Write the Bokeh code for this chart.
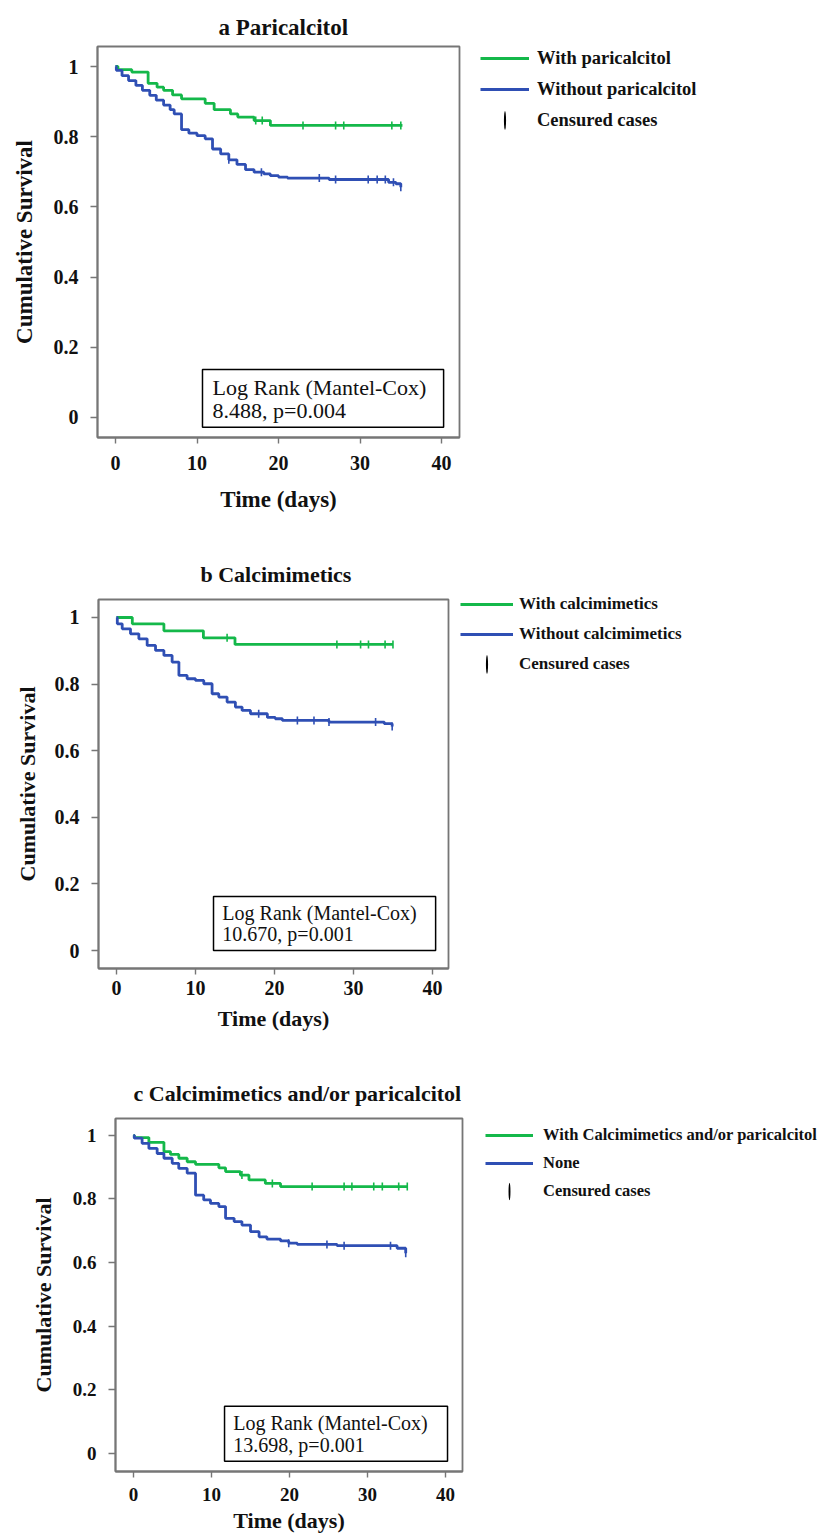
import numpy as np
from bokeh.plotting import figure
from bokeh.models import (FixedTicker, Legend, LegendItem, BoxAnnotation, Label, Range1d)
from bokeh.embed import file_html
from bokeh.resources import INLINE

FONT = "Liberation Serif"
GREEN = "#14b84a"
BLUE = "#2f4fb4"
FRAME = "#767676"
INK = "#111111"

x_ticks = [0, 10, 20, 30, 40]
y_ticks = [0, 0.2, 0.4, 0.6, 0.8, 1.0]
y_tick_labels = ["0", "0.2", "0.4", "0.6", "0.8", "1"]

# ---- panel a : Paricalcitol ----
a_title = "a Paricalcitol"
a_labels = ["With paricalcitol", "Without paricalcitol", "Censured cases"]
a_stat = ["Log Rank (Mantel-Cox)", "8.488, p=0.004"]
a_with_t = [0, 0.3, 2.0, 4.0, 5.1, 5.9, 7.0, 8.1, 11.0, 12.1, 14.1, 15.0, 17.0, 19.0, 35.2]
a_with_s = [1.0, 0.991, 0.984, 0.952, 0.941, 0.932, 0.919, 0.908, 0.895, 0.877, 0.865, 0.856, 0.846, 0.832, 0.832]
a_with_cens = [17.2, 18.0, 23.0, 27.0, 28.0, 33.9, 35.0]
a_without_t = [0, 0.1, 0.8, 1.6, 2.5, 3.3, 4.2, 5.0, 5.9, 6.7, 7.2, 8.1, 9.0, 10.0, 11.0, 11.9,
               12.9, 13.9, 14.9, 15.95, 17.0, 18.2, 19.0, 20.0, 21.1, 26.2, 33.5, 34.4, 35.0]
a_without_s = [1.0, 0.989, 0.974, 0.960, 0.946, 0.932, 0.918, 0.904, 0.890, 0.877, 0.865, 0.820, 0.810,
               0.803, 0.794, 0.765, 0.751, 0.734, 0.721, 0.706, 0.699, 0.694, 0.689, 0.685, 0.682,
               0.678, 0.670, 0.666, 0.656]
a_without_cens = [13.9, 17.9, 25.0, 27.0, 31.0, 32.1, 33.1, 34.1, 35.0]

# ---- panel b : Calcimimetics ----
b_title = "b Calcimimetics"
b_labels = ["With calcimimetics", "Without calcimimetics", "Censured cases"]
b_stat = ["Log Rank (Mantel-Cox)", "10.670, p=0.001"]
b_with_t = [0, 2.0, 6.0, 11.0, 15.0, 35.0]
b_with_s = [1.0, 0.981, 0.960, 0.939, 0.919, 0.919]
b_with_cens = [14.0, 27.9, 30.9, 31.9, 34.0, 35.0]
b_without_t = [0, 0.1, 0.72, 1.77, 2.83, 3.88, 4.94, 6.0, 7.04, 7.9, 8.94, 10.0, 11.05, 12.1, 12.95,
               14.0, 15.05, 15.9, 16.96, 19.1, 20.1, 21.0, 26.9, 33.9, 34.9]
b_without_s = [1.0, 0.981, 0.966, 0.951, 0.936, 0.916, 0.901, 0.886, 0.866, 0.826, 0.816, 0.811, 0.801,
               0.771, 0.761, 0.746, 0.731, 0.721, 0.711, 0.700, 0.696, 0.691, 0.686, 0.681, 0.673]
b_without_cens = [18.0, 22.9, 25.0, 26.9, 32.8, 34.9]

# ---- panel c : Calcimimetics and/or paricalcitol ----
c_title = "c Calcimimetics and/or paricalcitol"
c_labels = ["With Calcimimetics and/or paricalcitol", "None", "Censured cases"]
c_stat = ["Log Rank (Mantel-Cox)", "13.698, p=0.001"]
c_with_t = [0, 0.1, 1.97, 3.9, 4.74, 5.81, 6.88, 7.95, 10.94, 11.8, 13.7, 14.8, 16.9, 18.85, 35.1]
c_with_s = [1.0, 0.993, 0.978, 0.949, 0.940, 0.928, 0.917, 0.909, 0.898, 0.886, 0.875, 0.860, 0.849, 0.839, 0.839]
c_with_cens = [13.9, 17.8, 22.9, 27.0, 28.0, 30.8, 31.9, 34.0, 35.1]
c_without_t = [0, 0.1, 1.1, 1.97, 3.03, 3.9, 4.96, 5.8, 6.88, 7.95, 9.0, 9.87, 10.94, 11.8, 12.9, 13.9,
               15.0, 16.1, 17.1, 18.85, 19.9, 21.0, 26.1, 33.8, 34.9]
c_without_s = [1.0, 0.991, 0.975, 0.959, 0.943, 0.928, 0.912, 0.896, 0.881, 0.812, 0.797, 0.786, 0.776,
               0.739, 0.729, 0.718, 0.697, 0.681, 0.674, 0.668, 0.661, 0.657, 0.653, 0.645, 0.629]
c_without_cens = [19.9, 24.8, 27.0, 32.95, 34.9]


def surv_at(ts, ss, cens):
    idx = np.searchsorted(np.asarray(ts), np.asarray(cens), side="right") - 1
    return [ss[i] for i in idx]


def make_panel(title, labels, stat, with_t, with_s, with_cens, wo_t, wo_s, wo_cens, L):
    p = figure(frame_width=L["fw"], frame_height=L["fh"],
               x_range=Range1d(*L["xr"]), y_range=Range1d(*L["yr"]),
               output_backend="svg", toolbar_location=None,
               min_border_left=L["mbl"], min_border_right=370,
               min_border_top=L["mbt"], min_border_bottom=L["mbb"],
               background_fill_color="white", border_fill_color="white")
    p.title.text = title
    p.title.align = "left"
    p.title.text_font = FONT
    p.title.text_font_style = "bold"
    p.title.text_font_size = L["title_fs"]
    p.title.text_color = INK
    p.title.offset = L["title_off"]
    p.title.standoff = L["title_stand"]
    p.outline_line_color = FRAME
    p.outline_line_width = 1.8
    p.grid.visible = False

    for ax in (p.xaxis[0], p.yaxis[0]):
        ax.axis_line_color = FRAME
        ax.axis_line_width = 1.8
        ax.major_tick_line_color = FRAME
        ax.major_tick_line_width = 1.4
        ax.major_tick_in = 0
        ax.minor_tick_line_color = None
        ax.major_label_text_font = FONT
        ax.major_label_text_font_style = "bold"
        ax.major_label_text_font_size = L["tick_fs"]
        ax.major_label_text_color = INK
        ax.axis_label_text_font = FONT
        ax.axis_label_text_font_style = "bold"
        ax.axis_label_text_font_size = L["lab_fs"]
        ax.axis_label_text_color = INK

    p.xaxis.ticker = FixedTicker(ticks=x_ticks)
    p.xaxis.major_tick_out = 6
    p.xaxis.major_label_standoff = L["xstand"]
    p.xaxis.axis_label = "Time (days)"
    p.xaxis.axis_label_standoff = L["xlabstand"]

    p.yaxis.ticker = FixedTicker(ticks=y_ticks)
    p.yaxis.major_label_overrides = {t: s for t, s in zip(y_ticks, y_tick_labels)}
    p.yaxis.major_tick_out = 7
    p.yaxis.major_label_standoff = 12
    p.yaxis.axis_label = "Cumulative Survival"
    p.yaxis.axis_label_standoff = L["ylabstand"]

    g = p.step(x=with_t, y=with_s, mode="after", line_color=GREEN, line_width=2.8)
    b = p.step(x=wo_t, y=wo_s, mode="after", line_color=BLUE, line_width=2.8)
    p.scatter(x=with_cens, y=surv_at(with_t, with_s, with_cens), marker="dash",
              angle=np.pi / 2, size=8, line_color=GREEN, line_width=1.6)
    p.scatter(x=wo_cens, y=surv_at(wo_t, wo_s, wo_cens), marker="dash",
              angle=np.pi / 2, size=8, line_color=BLUE, line_width=1.6)
    # legend-only key for censoring: a thin upright ellipse (screen-sized),
    # NaN position -> nothing drawn inside the plot
    cens_key = p.ellipse(x=[np.nan], y=[np.nan], width=2.2, height=20,
                         width_units="screen", height_units="screen",
                         fill_color="black", line_color=None)

    leg = Legend(items=[LegendItem(label=labels[0], renderers=[g]),
                        LegendItem(label=labels[1], renderers=[b]),
                        LegendItem(label=labels[2], renderers=[cens_key])],
                 location=(L["vx"], L["vy"]), orientation="vertical",
                 padding=0, margin=0, spacing=L["lsp"],
                 glyph_width=L["gw"], glyph_height=L["ih"], label_height=L["ih"],
                 label_standoff=L["lstand"],
                 border_line_alpha=0, background_fill_alpha=0,
                 label_text_font=FONT, label_text_font_style="bold",
                 label_text_font_size=L["leg_fs"], label_text_color=INK)
    p.add_layout(leg, "right")

    bx = L["box"]
    p.add_layout(BoxAnnotation(left=bx[0], right=bx[1], bottom=bx[2], top=bx[3],
                               fill_alpha=0, line_color="black", line_alpha=1.0,
                               line_width=1.5))
    for txt, yy in zip(stat, L["stat_y"]):
        p.add_layout(Label(x=L["stat_x"], y=yy, text=txt, text_font=FONT,
                           text_font_size=L["stat_fs"], text_baseline="middle",
                           text_align="left", text_color=INK))
    return p


LA = dict(fw=362, fh=391, mbl=97, mbt=46, mbb=81, xr=(-2.21, 42.2), yr=(-0.057, 1.057),
          title_fs="23px", title_off=121, title_stand=14, tick_fs="20px", lab_fs="23px",
          xstand=12, xlabstand=14, ylabstand=14,
          vx=21, vy=305, gw=49, ih=24, lstand=8, lsp=7, leg_fs="18.5px",
          box=(10.67, 40.25, -0.028, 0.137), stat_x=11.9, stat_y=(0.085, 0.020), stat_fs="22px")
LB = dict(fw=350, fh=369, mbl=98, mbt=81, mbb=62, xr=(-2.28, 42.03), yr=(-0.054, 1.054),
          title_fs="22px", title_off=102, title_stand=25, tick_fs="20px", lab_fs="22px",
          xstand=6, xlabstand=8, ylabstand=12,
          vx=12, vy=292, gw=53, ih=24, lstand=6, lsp=6, leg_fs="17px",
          box=(12.28, 40.4, 0.0, 0.162), stat_x=13.4, stat_y=(0.114, 0.051), stat_fs="20px")
LC = dict(fw=347, fh=353, mbl=115, mbt=85, mbb=70, xr=(-2.31, 42.18), yr=(-0.057, 1.053),
          title_fs="22px", title_off=18, title_stand=26, tick_fs="19px", lab_fs="22px",
          xstand=10, xlabstand=4, ylabstand=14,
          vx=23, vy=269, gw=48, ih=22, lstand=10, lsp=6, leg_fs="16.5px",
          box=(11.67, 40.26, -0.025, 0.148), stat_x=12.8, stat_y=(0.094, 0.025), stat_fs="20px")

pa = make_panel(a_title, a_labels, a_stat, a_with_t, a_with_s, a_with_cens,
                a_without_t, a_without_s, a_without_cens, LA)
pb = make_panel(b_title, b_labels, b_stat, b_with_t, b_with_s, b_with_cens,
                b_without_t, b_without_s, b_without_cens, LB)
pc = make_panel(c_title, c_labels, c_stat, c_with_t, c_with_s, c_with_cens,
                c_without_t, c_without_s, c_without_cens, LC)

# three independent roots, stacked by the page (no frame alignment between them)
open("out.html", "w").write(file_html([pa, pb, pc], INLINE))
